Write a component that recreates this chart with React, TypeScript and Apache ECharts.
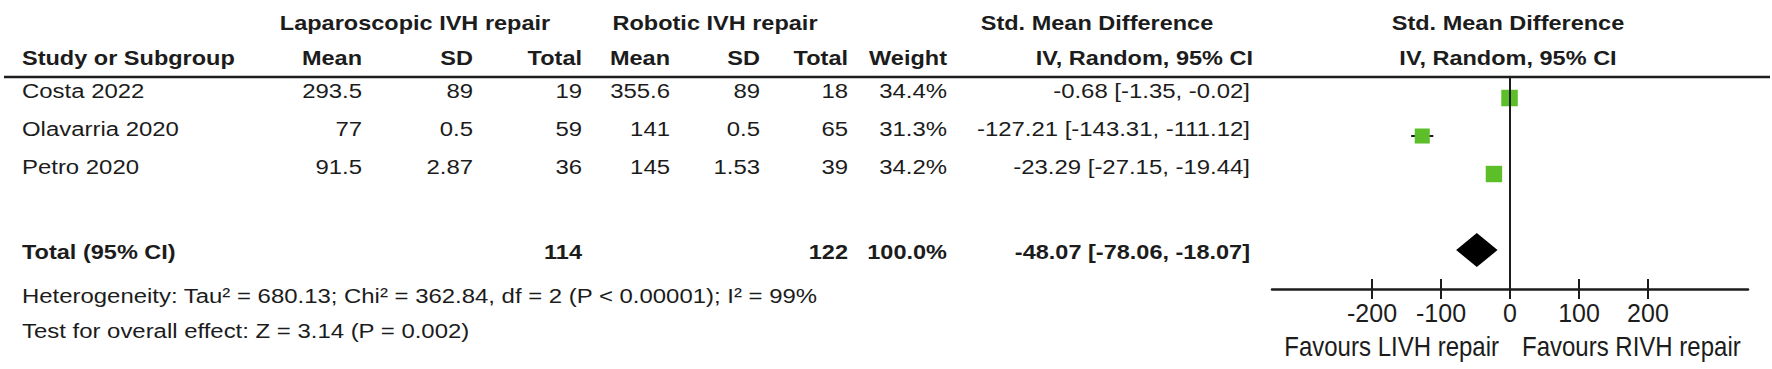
import React, { useEffect, useRef } from "react";
import * as echarts from "echarts";

// ---------- data ----------
const studies = ["Costa 2022", "Olavarria 2020", "Petro 2020"];
const lapMean = ["293.5", "77", "91.5"];
const lapSD = ["89", "0.5", "2.87"];
const lapTotal = [19, 59, 36];
const robMean = ["355.6", "141", "145"];
const robSD = ["89", "0.5", "1.53"];
const robTotal = [18, 65, 39];
const weights = [34.4, 31.3, 34.2];
const smd = [-0.68, -127.21, -23.29];
const ciLow = [-1.35, -143.31, -27.15];
const ciHigh = [-0.02, -111.12, -19.44];
const studyRows = [0, 1, 2];
const totalRow = 4;
const totalLap = 114;
const totalRob = 122;
const totalWeight = 100.0;
const pooled = -48.07;
const pooledLow = -78.06;
const pooledHigh = -18.07;
const xTicks = [-200, -100, 0, 100, 200];
const heterogeneity =
  "Heterogeneity: Tau\u00b2 = 680.13; Chi\u00b2 = 362.84, df = 2 (P < 0.00001); I\u00b2 = 99%";
const overallEffect = "Test for overall effect: Z = 3.14 (P = 0.002)";
const favourLeft = "Favours LIVH repair";
const favourRight = "Favours RIVH repair";

const INK = "#1c1c1c";
const GREEN = "#5cbf2a";
const FONT = '"Liberation Sans", Arial, sans-serif';

const fmtCI = (e: number, l: number, h: number) =>
  `${e.toFixed(2)} [${l.toFixed(2)}, ${h.toFixed(2)}]`;

function txt(text: string, x: number, y: number, align: string, bold = false) {
  return {
    type: "text",
    x,
    y,
    scaleX: bold ? 1.12 : 1.14,
    silent: true,
    style: {
      text,
      fill: INK,
      font: `${bold ? "bold " : ""}21px ${FONT}`,
      align,
      textAlign: align,
      verticalAlign: "middle",
      textVerticalAlign: "middle",
    },
  };
}

export default function App() {
  const ref = useRef<HTMLDivElement>(null);

  useEffect(() => {
    const chart = echarts.init(ref.current!, null, { renderer: "svg" });

    const option: any = {
      animation: false,
      backgroundColor: "#ffffff",
      grid: {
        left: 1272,
        top: 77,
        width: 476,
        height: 212,
        containLabel: false,
        outerBoundsMode: "none",
      },
      xAxis: [
        {
          type: "value",
          min: -345,
          max: 345,
          position: "bottom",
          splitLine: { show: false },
          axisLine: { show: true, onZero: false, lineStyle: { color: INK, width: 2.5 } },
          axisTick: { show: true, customValues: xTicks, length: 10, lineStyle: { color: INK, width: 2 } },
          axisLabel: {
            show: true,
            customValues: xTicks,
            color: INK,
            fontSize: 25,
            fontFamily: FONT,
            margin: 11,
          },
        },
        {
          type: "value",
          min: -345,
          max: 345,
          position: "bottom",
          splitLine: { show: false },
          axisLine: { show: false, onZero: false },
          axisLabel: { show: false },
          axisTick: {
            show: true,
            inside: true,
            customValues: xTicks,
            length: 10,
            lineStyle: { color: INK, width: 2 },
          },
        },
      ],
      yAxis: {
        type: "value",
        min: -0.553,
        max: 5.026,
        inverse: true,
        show: false,
      },
      series: [
        {
          type: "custom",
          name: "ci",
          silent: true,
          data: studyRows.map((r, i) => [ciLow[i], ciHigh[i], r]),
          renderItem: (params: any, api: any) => {
            const a = api.coord([api.value(0), api.value(2)]);
            const b = api.coord([api.value(1), api.value(2)]);
            return {
              type: "line",
              shape: { x1: a[0], y1: a[1], x2: b[0], y2: b[1] },
              style: { stroke: INK, lineWidth: 2 },
            };
          },
          markLine: {
            silent: true,
            symbol: ["none", "none"],
            label: { show: false },
            lineStyle: { color: INK, width: 2, type: "solid" },
            data: [{ xAxis: 0 }],
          },
        },
        {
          type: "scatter",
          name: "smd",
          silent: true,
          symbol: "rect",
          symbolSize: (v: number[]) => v[2] * 0.48,
          itemStyle: { color: GREEN, opacity: 1 },
          data: studyRows.map((r, i) => [smd[i], r, weights[i]]),
          z: 3,
        },
        {
          type: "custom",
          name: "pooled",
          silent: true,
          data: [[pooledLow, pooled, pooledHigh, totalRow]],
          renderItem: (params: any, api: any) => {
            const row = api.value(3);
            const l = api.coord([api.value(0), row]);
            const c = api.coord([api.value(1), row]);
            const h = api.coord([api.value(2), row]);
            const half = api.size([0, 1])[1] * 0.45;
            return {
              type: "polygon",
              shape: {
                points: [
                  [l[0], l[1]],
                  [c[0], c[1] - half],
                  [h[0], h[1]],
                  [c[0], c[1] + half],
                ],
              },
              style: { fill: "#000" },
            };
          },
          z: 4,
        },
      ],
    };

    chart.setOption(option);

    const py = (r: number) => chart.convertToPixel({ yAxisIndex: 0 }, r) as number;
    const px = (v: number) => chart.convertToPixel({ xAxisIndex: 0 }, v) as number;

    const colMean1 = 362, colSD1 = 473, colTot1 = 582;
    const colMean2 = 670, colSD2 = 760, colTot2 = 848;
    const colW = 947, colCI = 1250;
    const h1 = 23, h2 = 58;

    const g: any[] = [];
    g.push({
      type: "line",
      silent: true,
      shape: { x1: 4, y1: 77, x2: 1770, y2: 77 },
      style: { stroke: INK, lineWidth: 2.5 },
    });
    g.push(txt("Laparoscopic IVH repair", 415, h1, "center", true));
    g.push(txt("Robotic IVH repair", 715, h1, "center", true));
    g.push(txt("Std. Mean Difference", 1097, h1, "center", true));
    g.push(txt("Std. Mean Difference", 1508, h1, "center", true));
    g.push(txt("Study or Subgroup", 22, h2, "left", true));
    g.push(txt("Mean", colMean1, h2, "right", true));
    g.push(txt("SD", colSD1, h2, "right", true));
    g.push(txt("Total", colTot1, h2, "right", true));
    g.push(txt("Mean", colMean2, h2, "right", true));
    g.push(txt("SD", colSD2, h2, "right", true));
    g.push(txt("Total", colTot2, h2, "right", true));
    g.push(txt("Weight", colW, h2, "right", true));
    g.push(txt("IV, Random, 95% CI", 1253, h2, "right", true));
    g.push(txt("IV, Random, 95% CI", 1508, h2, "center", true));

    studyRows.forEach((r, i) => {
      const y = py(r) - 7;
      g.push(txt(studies[i], 22, y, "left"));
      g.push(txt(lapMean[i], colMean1, y, "right"));
      g.push(txt(lapSD[i], colSD1, y, "right"));
      g.push(txt(String(lapTotal[i]), colTot1, y, "right"));
      g.push(txt(robMean[i], colMean2, y, "right"));
      g.push(txt(robSD[i], colSD2, y, "right"));
      g.push(txt(String(robTotal[i]), colTot2, y, "right"));
      g.push(txt(`${weights[i].toFixed(1)}%`, colW, y, "right"));
      g.push(txt(fmtCI(smd[i], ciLow[i], ciHigh[i]), colCI, y, "right"));
    });

    const ty = py(totalRow) + 2;
    g.push(txt("Total (95% CI)", 22, ty, "left", true));
    g.push(txt(String(totalLap), colTot1, ty, "right", true));
    g.push(txt(String(totalRob), colTot2, ty, "right", true));
    g.push(txt(`${totalWeight.toFixed(1)}%`, colW, ty, "right", true));
    g.push(txt(fmtCI(pooled, pooledLow, pooledHigh), colCI, ty, "right", true));

    g.push(txt(heterogeneity, 22, 296, "left"));
    g.push(txt(overallEffect, 22, 331, "left"));

    const zeroX = px(0);
    const fav = (text: string, x: number, align: string) => ({
      type: "text",
      x,
      y: 346,
      scaleY: 1.15,
      silent: true,
      style: {
        text,
        fill: INK,
        font: `24px ${FONT}`,
        align,
        textAlign: align,
        verticalAlign: "middle",
        textVerticalAlign: "middle",
      },
    });
    g.push(fav(favourLeft, zeroX - 11, "right"));
    g.push(fav(favourRight, zeroX + 12, "left"));

    chart.setOption({ graphic: { elements: g } });

    return () => chart.dispose();
  }, []);

  return (
    <div
      ref={ref}
      style={{ position: "absolute", left: 0, top: 0, width: 1772, height: 369, background: "#fff" }}
    />
  );
}
